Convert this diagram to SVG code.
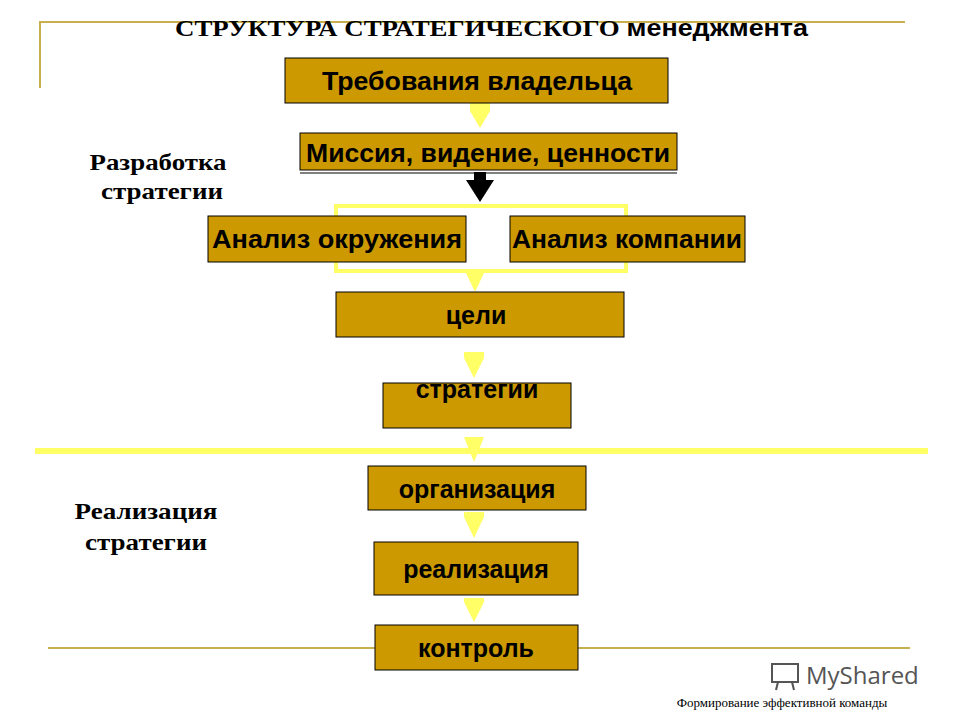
<svg xmlns="http://www.w3.org/2000/svg" width="960" height="720" viewBox="0 0 960 720">
<style>
.b{fill:#CC9900;stroke:#000;stroke-width:1}
.t{font-family:"Liberation Sans",Arial,sans-serif;font-weight:bold;font-size:25px;text-anchor:middle;fill:#000}
.s{font-family:"Liberation Serif","Times New Roman",serif;font-weight:bold;font-size:23px;text-anchor:middle;fill:#000}
.y{fill:#FFFF66}
.yl{stroke:#FFFF66;stroke-width:4;fill:none}
</style>
<rect width="960" height="720" fill="#fff"/>
<path d="M40 88V22H905" stroke="#C8B050" stroke-width="2" fill="none"/>
<text x="175" y="36" font-family="'Liberation Serif',serif" font-weight="bold" font-size="23" textLength="633" lengthAdjust="spacingAndGlyphs">СТРУКТУРА СТРАТЕГИЧЕСКОГО <tspan font-family="'Liberation Sans',sans-serif">менеджмента</tspan></text>
<text x="158" y="170" class="s" textLength="137" lengthAdjust="spacingAndGlyphs">Разработка</text>
<text x="162" y="199" class="s" textLength="122" lengthAdjust="spacingAndGlyphs">стратегии</text>
<text x="146" y="519" class="s" textLength="143" lengthAdjust="spacingAndGlyphs">Реализация</text>
<text x="146" y="550" class="s" textLength="122" lengthAdjust="spacingAndGlyphs">стратегии</text>
<line x1="35" y1="451" x2="928" y2="451" stroke="#FFFF66" stroke-width="6"/>
<line x1="48" y1="648" x2="910" y2="648" stroke="#C8B050" stroke-width="2"/>
<g id="connectors">
<path class="y" d="M470 103h20v8l-10 17-10-17z"/>
<path d="M474 172h12v8h8l-14 22-14-22h8z" fill="#000"/>
<path class="yl" d="M336 216v-10h290v10"/>
<path class="yl" d="M336 262v9h290v-9"/>
<path class="y" d="M465 271h20l-10 21z"/>
<path class="y" d="M464 352h20v6l-10 20-10-20z"/>
<path class="y" d="M464 437h20l-10 25-10-25z"/>
<path class="y" d="M464 512h20v5l-10 21-10-21z"/>
<path class="y" d="M464 598h20v4l-10 20-10-20z"/>
</g>
<g id="n1"><rect class="b" x="285" y="58" width="383" height="45"/><text class="t" x="477" y="90" textLength="310" lengthAdjust="spacingAndGlyphs">Требования владельца</text></g>
<g id="n2"><rect class="b" x="300" y="133" width="377" height="37"/><line x1="300" y1="173" x2="677" y2="173" stroke="#000"/><text class="t" x="488" y="162" textLength="364" lengthAdjust="spacingAndGlyphs">Миссия, видение, ценности</text></g>
<g id="n3"><rect class="b" x="208" y="216" width="258" height="46"/><text class="t" x="337" y="248" textLength="250" lengthAdjust="spacingAndGlyphs">Анализ окружения</text></g>
<g id="n4"><rect class="b" x="510" y="216" width="235" height="46"/><text class="t" x="627" y="248" textLength="230" lengthAdjust="spacingAndGlyphs">Анализ компании</text></g>
<g id="n5"><rect class="b" x="336" y="292" width="288" height="45"/><text class="t" x="476" y="324">цели</text></g>
<g id="n6"><rect class="b" x="383" y="383" width="188" height="45"/><text class="t" x="477" y="398">стратегии</text></g>
<g id="n7"><rect class="b" x="368" y="466" width="218" height="44"/><text class="t" x="477" y="498">организация</text></g>
<g id="n8"><rect class="b" x="374" y="542" width="204" height="53"/><text class="t" x="476" y="578">реализация</text></g>
<g id="n9"><rect class="b" x="375" y="625" width="203" height="45"/><text class="t" x="476" y="657">контроль</text></g>
<g id="logo" fill="none" stroke="#555" stroke-width="2"><rect x="772" y="664" width="26" height="18"/><line x1="778" y1="682" x2="776" y2="690"/><line x1="792" y1="682" x2="794" y2="690"/></g>
<text x="806" y="684" font-family="'Open Sans',sans-serif" font-size="24" fill="#555">MyShared</text>
<text x="782" y="707" font-family="'Liberation Serif',serif" font-size="13" text-anchor="middle">Формирование эффективной команды</text>
</svg>
